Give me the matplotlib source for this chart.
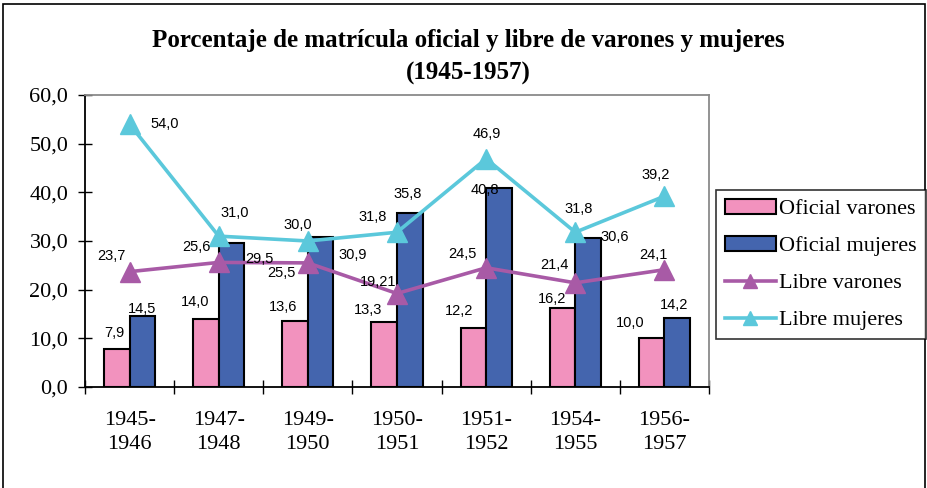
import numpy as np
import matplotlib
matplotlib.use("Agg")
import matplotlib.pyplot as plt
from matplotlib.patches import Rectangle

# data
periodos = ["1945-\n1946", "1947-\n1948", "1949-\n1950", "1950-\n1951",
            "1951-\n1952", "1954-\n1955", "1956-\n1957"]
oficial_varones = [7.9, 14.0, 13.6, 13.3, 12.2, 16.2, 10.0]
oficial_mujeres = [14.5, 29.5, 30.9, 35.8, 40.8, 30.6, 14.2]
libre_varones = [23.7, 25.6, 25.5, 19.21, 24.5, 21.4, 24.1]
libre_mujeres = [54.0, 31.0, 30.0, 31.8, 46.9, 31.8, 39.2]

lbl_ov = ["7,9", "14,0", "13,6", "13,3", "12,2", "16,2", "10,0"]
lbl_om = ["14,5", "29,5", "30,9", "35,8", "40,8", "30,6", "14,2"]
lbl_lv = ["23,7", "25,6", "25,5", "19,21", "24,5", "21,4", "24,1"]
lbl_lm = ["54,0", "31,0", "30,0", "31,8", "46,9", "31,8", "39,2"]

# label offsets (pixels) as placed in the original
off_ov = [(-2, -16), (-11, -17), (-12, -14), (-16, -12), (-14, -17), (-10, -9), (-21, -15)]
off_om = [(0, -7), (28, 16), (32, 18), (-2, -19), (-14, 2), (27, -1), (-3, -13)]
off_lv = [(-18, -16), (-22, -15), (-26, 10), (-19, -12), (-24, -14), (-21, -18), (-11, -15)]
off_lm = [(35, 0), (16, -23), (-10, -16), (-24, -15), (1, -25), (3, -23), (-9, -21)]

c_ov = "#F292BE"
c_om = "#4465AE"
c_lv = "#A85AA6"
c_lm = "#5BC8DB"

serif = "Liberation Serif"
sans = "Liberation Sans"

fig = plt.figure(figsize=(9.27, 4.88), dpi=100)
ax = fig.add_axes([85/927, 1-387/488, (709-85)/927, (387-95)/488])

x = np.arange(len(periodos))
w = 0.287
b1 = ax.bar(x - w/2, oficial_varones, w, color=c_ov, edgecolor="black", lw=1.5, zorder=2)
b2 = ax.bar(x + w/2, oficial_mujeres, w, color=c_om, edgecolor="black", lw=1.5, zorder=2)
l1, = ax.plot(x, libre_varones, color=c_lv, lw=2.6, marker="^", ms=15, zorder=3)
l2, = ax.plot(x, libre_mujeres, color=c_lm, lw=2.6, marker="^", ms=15, zorder=3)

def put(xs, ys, labels, offs):
    for xi, yi, t, (dx, dy) in zip(xs, ys, labels, offs):
        ax.annotate(t, (xi, yi), xytext=(dx*0.72, -dy*0.72), textcoords="offset points",
                    ha="center", va="center", fontsize=10.5, family=sans, color="black", zorder=4)

put(x - w/2, oficial_varones, lbl_ov, off_ov)
put(x + w/2, oficial_mujeres, lbl_om, off_om)
put(x, libre_varones, lbl_lv, off_lv)
put(x, libre_mujeres, lbl_lm, off_lm)

ax.set_xlim(-0.5, len(periodos) - 0.5)
ax.set_ylim(0, 60)
ax.set_yticks(np.arange(0, 61, 10))
ax.set_yticklabels([f"{v:.1f}".replace(".", ",") for v in np.arange(0, 61, 10)],
                   family=serif, fontsize=16)
ax.tick_params(axis="y", direction="inout", length=10, width=1, pad=7)

ax.set_xticks(np.arange(-0.5, len(periodos)), minor=False)
ax.set_xticklabels([])
ax.set_xticks(x, minor=True)
ax.set_xticklabels(periodos, minor=True, family=serif, fontsize=16, linespacing=1.4)
ax.tick_params(axis="x", which="major", direction="inout", length=10, width=1)
ax.tick_params(axis="x", which="minor", length=0, pad=17)

for s in ["left", "bottom"]:
    ax.spines[s].set_color("black")
    ax.spines[s].set_linewidth(1.3)
for s in ["top", "right"]:
    ax.spines[s].set_color("#8a8a8a")
    ax.spines[s].set_linewidth(1.3)

fig.text(468/927, 1-41/488, "Porcentaje de matrícula oficial y libre de varones y mujeres",
         ha="center", va="center", family=serif, fontweight="bold", fontsize=18)
fig.text(468/927, 1-73/488, "(1945-1957)",
         ha="center", va="center", family=serif, fontweight="bold", fontsize=18)

leg = fig.legend([b1, b2, l1, l2], ["Oficial varones", "Oficial mujeres", "Libre varones", "Libre mujeres"],
                 loc="upper left", bbox_to_anchor=(716/927, 1-190/488),
                 prop={"family": serif, "size": 16}, frameon=True, fancybox=False,
                 edgecolor="black", handlelength=2.3, labelspacing=0.74,
                 handletextpad=0.15, borderpad=0.4, borderaxespad=0)
leg.get_frame().set_linewidth(1.2)
for h in leg.legend_handles[2:]:
    h.set_markersize(10)

fig.patches.append(Rectangle((3/927, -0.01), 922/927, 1-4/488 + 0.01, transform=fig.transFigure,
                             fill=False, edgecolor="black", lw=1.2))

fig.savefig("out.png", dpi=100)
